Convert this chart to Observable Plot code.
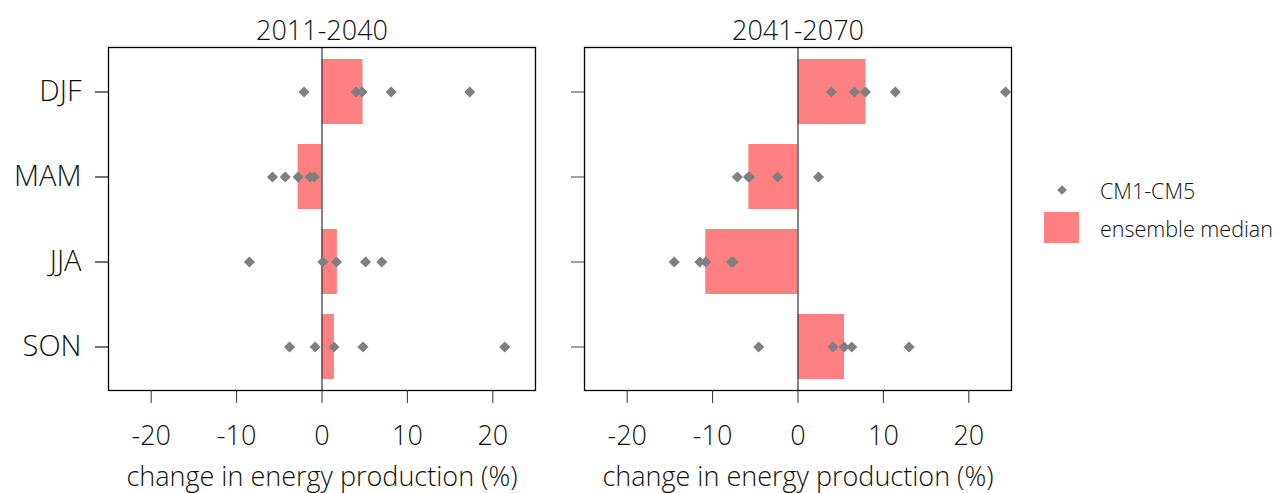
<!DOCTYPE html>
<html>
<head>
<meta charset="utf-8">
<script src="https://cdn.jsdelivr.net/npm/d3@7"></script>
<script src="https://cdn.jsdelivr.net/npm/@observablehq/plot@0.6"></script>
<style>
  body { margin: 0; background: #fff; }
  #wrap { position: relative; width: 1284px; height: 493px; font-family: "Open Sans", sans-serif; font-weight: 300; }
  #legend { position: absolute; left: 1040px; top: 170px; font-size: 21.5px; color: #111; }
  .row { position: absolute; left: 0; white-space: nowrap; display: flex; align-items: center; }
</style>
</head>
<body>
<div id="wrap">
  <div id="chart"></div>
  <div id="legend"></div>
</div>
<script>
const seasons = ["DJF", "MAM", "JJA", "SON"];
const periods = ["2011-2040", "2041-2070"];
const xTicks = [-20, -10, 0, 10, 20];
const xLabel = "change in energy production (%)";
const legendLabels = ["CM1-CM5", "ensemble median"];

// ensemble medians per season (DJF, MAM, JJA, SON)
const median2011 = [4.8, -2.8, 1.8, 1.45];
const median2041 = [7.95, -5.75, -10.8, 5.45];

// individual members CM1-CM5 per season
const members2011 = [
  [-2.1, 4.0, 4.7, 8.1, 17.3],
  [-5.8, -4.3, -2.8, -1.4, -0.9],
  [-8.5, 0.1, 1.7, 5.1, 7.0],
  [-3.8, -0.8, 1.4, 4.8, 21.4]
];
const members2041 = [
  [3.9, 6.6, 7.9, 11.4, 24.3],
  [-7.1, -5.8, -5.7, -2.4, 2.4],
  [-14.5, -11.5, -10.8, -7.8, -7.6],
  [-4.6, 4.1, 5.4, 6.3, 13.0]
];

const barColor = "#ff8080";
const dotColor = "#7f7f7f";

const medians = [];
const members = [];
[median2011, median2041].forEach((arr, p) => arr.forEach((v, i) => medians.push({period: periods[p], season: seasons[i], value: v})));
[members2011, members2041].forEach((arr, p) => arr.forEach((vals, i) => vals.forEach(v => members.push({period: periods[p], season: seasons[i], value: v}))));

const font = 27;
const chart = Plot.plot({
  width: 1284,
  height: 493,
  marginLeft: 108,
  marginRight: 273,
  marginTop: 47,
  marginBottom: 103,
  style: {fontFamily: "Open Sans, sans-serif", fontWeight: 300, color: "#111", background: "#fff"},
  fx: {domain: periods, paddingInner: 49 / 476, paddingOuter: 0, label: null},
  x: {domain: [-25, 25], label: null},
  y: {domain: seasons, paddingInner: 0.24, paddingOuter: 0.12, label: null},
  marks: [
    Plot.barX(medians, {x: "value", y: "season", fx: "period", fill: barColor}),
    Plot.ruleX([0], {stroke: "#333", strokeWidth: 1.2}),
    Plot.dot(members, {x: "value", y: "season", fx: "period", symbol: "diamond2", r: 5, fill: dotColor, stroke: "none"}),
    Plot.frame({stroke: "#000", strokeWidth: 1.3}),
    Plot.axisFx({anchor: "top", tickSize: 0, tickPadding: 8, fontSize: font, label: null}),
    Plot.axisX({ticks: xTicks, tickFormat: d => String(d), tickSize: 13, tickPadding: 22, fontSize: font, label: null, stroke: "#333"}),
    Plot.axisY({anchor: "left", facetAnchor: null, tickSize: 13, tickFormat: () => "", label: null, stroke: "#444"}),
    Plot.axisY({anchor: "left", tickSize: 13, tickPadding: 14, fontSize: 29, label: null, stroke: "#444"}),
    Plot.text(periods, {fx: d => d, text: () => xLabel, frameAnchor: "bottom", dy: 95, fontSize: font, fill: "#111"})
  ]
});
document.getElementById("chart").appendChild(chart);

// legend
const leg = document.getElementById("legend");
leg.innerHTML = `
  <div class="row" style="top:4px;">
    <svg width="60" height="32"><path transform="translate(22,16)" d="${d3.symbol(d3.symbolDiamond2, 60)()}" fill="${dotColor}"/></svg>
    <span>${legendLabels[0]}</span>
  </div>
  <div class="row" style="top:42px;">
    <svg width="60" height="32"><rect x="4" y="0" width="35" height="31" fill="${barColor}"/></svg>
    <span>${legendLabels[1]}</span>
  </div>`;
</script>
</body>
</html>
